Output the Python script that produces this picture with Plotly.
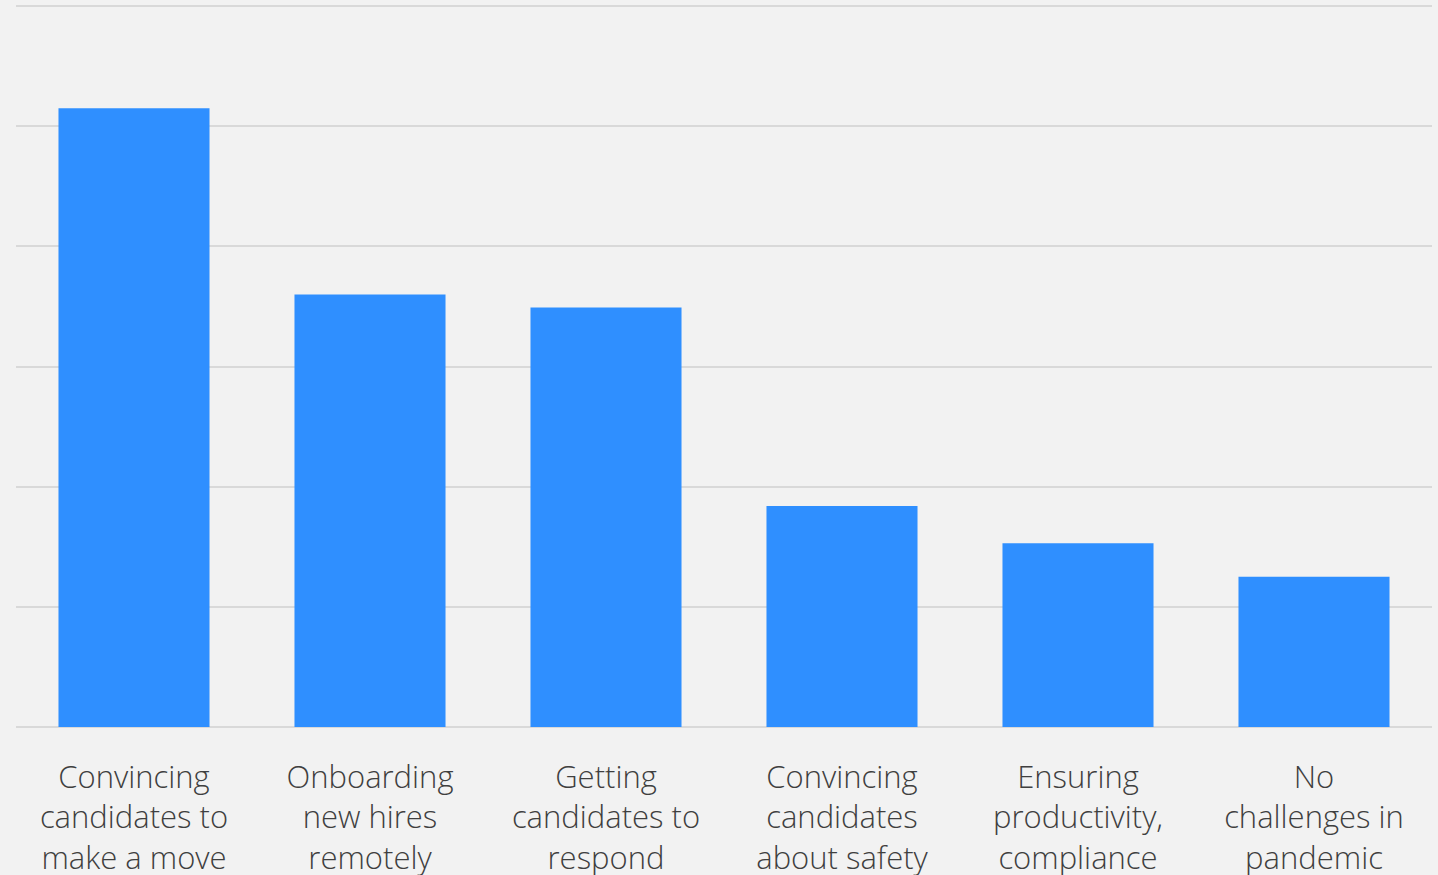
import plotly.graph_objects as go

categories = [
    "Convincing<br>candidates to<br>make a move",
    "Onboarding<br>new hires<br>remotely",
    "Getting<br>candidates to<br>respond",
    "Convincing<br>candidates<br>about safety",
    "Ensuring<br>productivity,<br>compliance",
    "No<br>challenges in<br>pandemic",
]
values = [51.5, 36, 34.9, 18.4, 15.3, 12.5]
y_ticks = [0, 10, 20, 30, 40, 50, 60]

fig = go.Figure(
    go.Bar(
        x=categories,
        y=values,
        marker=dict(color="#2f8fff", line=dict(width=0)),
        hoverinfo="skip",
    )
)

fig.update_layout(
    width=1438,
    height=875,
    margin=dict(l=16, r=6, t=3, b=148, autoexpand=False),
    paper_bgcolor="#f2f2f2",
    plot_bgcolor="#f2f2f2",
    bargap=0.36,
    showlegend=False,
    font=dict(family="'Open Sans', Lato, sans-serif", color="#484848", size=31),
)

fig.update_xaxes(
    showgrid=False,
    showline=False,
    ticks="",
    tickfont=dict(family="'Open Sans', Lato, sans-serif", size=31, color="#3f3f3f", weight=300),
    ticklabelstandoff=29,
    automargin=False,
)
fig.update_yaxes(
    range=[0, 60.25],
    tickvals=y_ticks,
    showticklabels=False,
    showgrid=True,
    gridcolor="#d9d9d9",
    gridwidth=2,
    zeroline=True,
    zerolinecolor="#d9d9d9",
    zerolinewidth=2,
    showline=False,
    automargin=False,
)

fig.write_html(
    "out.html",
    config={"displayModeBar": False},
    post_script="document.body.style.margin='0';document.body.style.background='#f2f2f2';",
)
